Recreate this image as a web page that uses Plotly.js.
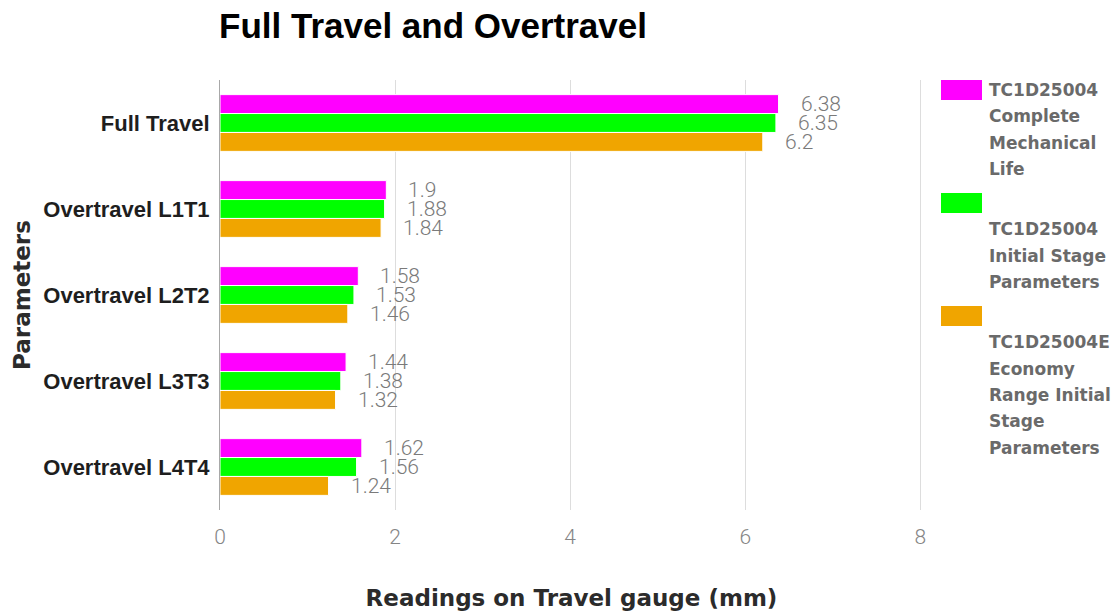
<!DOCTYPE html>
<html>
<head>
<meta charset="utf-8">
<script src="https://cdn.plot.ly/plotly-3.0.1.min.js"></script>
<style>
  html, body { margin: 0; padding: 0; background: #ffffff; }
  #chart { width: 1116px; height: 611px; }
</style>
</head>
<body>
<div id="chart"></div>
<script>
// Parameters measured (top to bottom)
const categories = ['Full Travel', 'Overtravel L1T1', 'Overtravel L2T2', 'Overtravel L3T3', 'Overtravel L4T4'];

// Readings on the travel gauge, mm
const completeLife   = [6.38, 1.90, 1.58, 1.44, 1.62];
const initialStage   = [6.35, 1.88, 1.53, 1.38, 1.56];
const economyInitial = [6.20, 1.84, 1.46, 1.32, 1.24];

const seriesNames = [
  'TC1D25004 Complete Mechanical Life',
  'TC1D25004 Initial Stage Parameters',
  'TC1D25004E Economy Range Initial Stage Parameters'
];

// Legend text, as wrapped in the side key (an empty line leaves room for the swatch)
const legendLines = [
  ['TC1D25004', 'Complete', 'Mechanical', 'Life'],
  ['', 'TC1D25004', 'Initial Stage', 'Parameters'],
  ['', 'TC1D25004E', 'Economy', 'Range Initial', 'Stage', 'Parameters']
];

const xTickVals = [0, 2, 4, 6, 8];

// ---- styling ----
const colors = ['#FF00FF', '#00FF00', '#F0A500'];
const W = 1116, H = 611;
const M = { l: 220, r: 193, t: 80, b: 101 };
const plotW = W - M.l - M.r, plotH = H - M.t - M.b;
const px2x = px => (px - M.l) / plotW;          // page px -> paper x
const px2y = py => (H - M.b - py) / plotH;      // page px -> paper y

const labelFont = { family: 'Roboto, "Liberation Sans", sans-serif', size: 21, color: '#7a7a7a', weight: 300 };
const valueShift = [19, 0, -19];

const series = [completeLife, initialStage, economyInitial];

const traces = series.map((vals, i) => ({
  type: 'bar',
  orientation: 'h',
  name: seriesNames[i],
  x: vals,
  y: categories,
  marker: { color: colors[i], line: { color: '#ffffff', width: 1 } },
  hoverinfo: 'x+name',
  showlegend: false
}));

// value labels beside each bar
const annotations = [];
series.forEach((vals, i) => {
  vals.forEach((v, j) => {
    annotations.push({
      x: v, y: categories[j], xref: 'x', yref: 'y',
      text: String(v), showarrow: false,
      xanchor: 'left', yanchor: 'middle',
      xshift: 20, yshift: valueShift[i],
      font: labelFont
    });
  });
});

// side key
const swatchTops = [80, 193, 306];
const lineStep = 26.3;
const shapes = [];
legendLines.forEach((lines, i) => {
  shapes.push({
    type: 'rect', xref: 'paper', yref: 'paper',
    x0: px2x(941), x1: px2x(982),
    y0: px2y(swatchTops[i]), y1: px2y(swatchTops[i] + 20),
    fillcolor: colors[i], line: { color: colors[i], width: 0 }
  });
  lines.forEach((t, k) => {
    if (!t) return;
    annotations.push({
      x: px2x(987), y: px2y(swatchTops[i] + 10 + k * lineStep),
      xref: 'paper', yref: 'paper',
      text: t, showarrow: false, xanchor: 'left', yanchor: 'middle',
      font: { family: '"DejaVu Sans", Verdana, sans-serif', size: 17, color: '#6a6a6a', weight: 'bold' }
    });
  });
});

const layout = {
  width: W, height: H,
  margin: M,
  paper_bgcolor: '#ffffff',
  plot_bgcolor: '#ffffff',
  barmode: 'group',
  bargap: 0.34,
  bargroupgap: 0,
  title: {
    text: 'Full Travel and Overtravel',
    x: 219 / W, xref: 'container', xanchor: 'left',
    y: 1 - 26 / H, yref: 'container', yanchor: 'middle',
    font: { family: '"Liberation Sans", Arial, sans-serif', size: 35, color: '#000000', weight: 'bold' }
  },
  xaxis: {
    range: [0, 8.03],
    tickvals: xTickVals,
    ticktext: xTickVals.map(String),
    showgrid: true, gridcolor: '#dddddd', gridwidth: 1,
    zeroline: false, showline: false,
    ticks: '',
    ticklabelstandoff: 12,
    tickfont: { family: 'Roboto, "Liberation Sans", sans-serif', size: 21, color: '#858585', weight: 300 },
    title: {
      text: 'Readings on Travel gauge (mm)',
      standoff: 41,
      font: { family: '"DejaVu Sans", Verdana, sans-serif', size: 23, color: '#2b2b2b', weight: 'bold' }
    },
    automargin: false,
    fixedrange: true
  },
  yaxis: {
    type: 'category',
    autorange: 'reversed',
    showgrid: false,
    zeroline: false,
    showline: true, linecolor: '#a8a8a8', linewidth: 1,
    ticks: '',
    ticklabelstandoff: 5,
    tickfont: { family: '"Liberation Sans", Arial, sans-serif', size: 22, color: '#1e1e1e', weight: 'bold' },
    title: {
      text: 'Parameters',
      standoff: 6,
      font: { family: '"DejaVu Sans", Verdana, sans-serif', size: 23, color: '#2b2b2b', weight: 'bold' }
    },
    automargin: false,
    fixedrange: true
  },
  shapes: shapes,
  annotations: annotations,
  showlegend: false
};

Plotly.newPlot('chart', traces, layout, { displayModeBar: false, staticPlot: true });
</script>
</body>
</html>
